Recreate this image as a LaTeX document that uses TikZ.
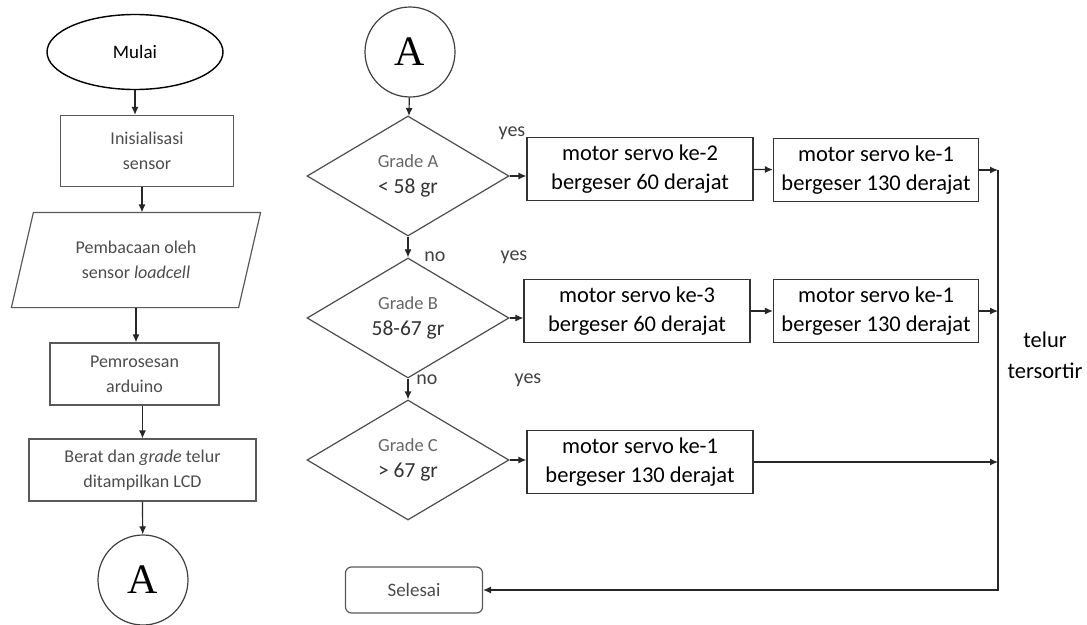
\documentclass[tikz,border=0pt]{standalone}
\usepackage{fontspec}
\setmainfont{Carlito}
\newfontfamily\hurufA{Liberation Serif}
\usetikzlibrary{shapes.geometric,arrows.meta,positioning}

\begin{document}
\begin{tikzpicture}[x=1pt,y=-1pt,
    panah/.style={-{Latex[length=8pt,width=7pt]},line width=1.2pt,black!85},
    proses/.style={draw=black!65,line width=1.2pt,minimum width=#1,minimum height=62,inner sep=0,align=center,text=black!70,font=\fontsize{18}{25}\selectfont},
    kotak/.style={draw=black!80,line width=1.2pt,minimum width=#1,minimum height=63,inner sep=0,align=center,font=\fontsize{22.5}{29}\selectfont},
    keputusan/.style={diamond,draw=black!70,line width=1.2pt,minimum width=202,minimum height=120,inner sep=0,align=center},
    konektor/.style={circle,draw=black!75,line width=1.2pt,minimum size=90,inner sep=0,font=\hurufA\fontsize{42}{42}\selectfont},
    teks/.style={text=black!75,font=\fontsize{20}{20}\selectfont}]
        \useasboundingbox (0,0) rectangle (1087,624);

        % Kolom kiri
        \node[ellipse,draw,line width=1.4pt,minimum width=176,minimum height=75,font=\fontsize{19}{19}\selectfont] (mulai) at (135,52) {Mulai};
        \node[proses=173,minimum height=71] (init) at (147,151) {Inisialisasi\\sensor};
        \node[proses=226,draw=none,minimum height=94] (baca) at (136,260) {Pembacaan oleh\\sensor \textit{loadcell}};
        \draw[black!65,line width=1.2pt] ([xshift=11pt]baca.north west) -- ([xshift=11pt]baca.north east)
            -- ([xshift=-11pt]baca.south east) -- ([xshift=-11pt]baca.south west) -- cycle;
        \node[proses=169] (olah) at (134.5,374) {Pemrosesan\\arduino};
        \node[proses=227] (lcd) at (142.5,470) {Berat dan \textit{grade} telur\\ditampilkan LCD};
        \node[konektor] (a1) at (143,580) {A};

        \draw[panah] (mulai.south) -- (mulai.south |- init.north);
        \draw[panah] ([xshift=-5pt]init.south) -- ([xshift=-5pt]init.south |- baca.north);
        \draw[panah] (baca.south) -- (baca.south |- olah.north);
        \draw[panah] (lcd.north |- olah.south) -- (lcd.north);
        \draw[panah] (lcd.south) -- (a1);

        % Kolom kanan
        \node[konektor] (a2) at (410,52) {A};
        \node[keputusan] (gradeA) at (408,176) {{\color{black!60}\fontsize{18.5}{18.5}\selectfont Grade A}\\[11pt]{\color{black!80}\fontsize{21.5}{21.5}\selectfont < 58 gr}};
        \node[keputusan] (gradeB) at (408,318) {{\color{black!60}\fontsize{18.5}{18.5}\selectfont Grade B}\\[11pt]{\color{black!80}\fontsize{21.5}{21.5}\selectfont 58-67 gr}};
        \node[keputusan] (gradeC) at (408,460) {{\color{black!60}\fontsize{18.5}{18.5}\selectfont Grade C}\\[11pt]{\color{black!80}\fontsize{21.5}{21.5}\selectfont > 67 gr}};

        \node[kotak=226] (servoA) at (640,169) {motor servo ke-2\\bergeser 60 derajat};
        \node[kotak=205] (servoA1) at (876,170) {motor servo ke-1\\bergeser 130 derajat};
        \node[kotak=226] (servoB) at (637,311) {motor servo ke-3\\bergeser 60 derajat};
        \node[kotak=205] (servoB1) at (876,311) {motor servo ke-1\\bergeser 130 derajat};
        \node[kotak=226] (servoC) at (640,462) {motor servo ke-1\\bergeser 130 derajat};

        \node[draw=black!65,line width=1.2pt,rounded corners=6pt,minimum width=137,minimum height=46,inner sep=0,
              text=black!70,font=\fontsize{19}{19}\selectfont] (selesai) at (414,590) {Selesai};

        % Titik kumpul
        \coordinate (kumpul) at (998,170);
        \coordinate (bawah) at (998,590);

        \draw[panah] (a2) -- (gradeA);
        \draw[panah] (gradeA) -- (gradeB);
        \draw[panah] (gradeB) -- (gradeC);
        \draw[panah] (gradeA.east) -- (gradeA.east -| servoA.west);
        \draw[panah] (gradeB.east) -- (gradeB.east -| servoB.west);
        \draw[panah] (gradeC.east) -- (gradeC.east -| servoC.west);
        \draw[panah] (servoA) -- (servoA1);
        \draw[panah] (servoB) -- (servoB1);
        \draw[panah] (servoA1.east) -- (servoA1.east -| kumpul);
        \draw[panah] (servoB1.east) -- (servoB1.east -| kumpul);
        \draw[panah] (servoC.east) -- (servoC.east -| kumpul);
        \draw[panah] (kumpul) -- (bawah) -- (selesai.east);

        % Label
        \node[teks] (ya1) at (512,133) {yes};
        \node[teks] (tidak1) at (435,257) {no};
        \node[teks] (ya2) at (514,257) {yes};
        \node[teks] (tidak2) at (427,380) {no};
        \node[teks] (ya3) at (528,380) {yes};
        \node[font=\fontsize{22.5}{31}\selectfont,align=center] (hasil) at (1045,355) {telur\\tersortir};
      \end{tikzpicture}
\end{document}
